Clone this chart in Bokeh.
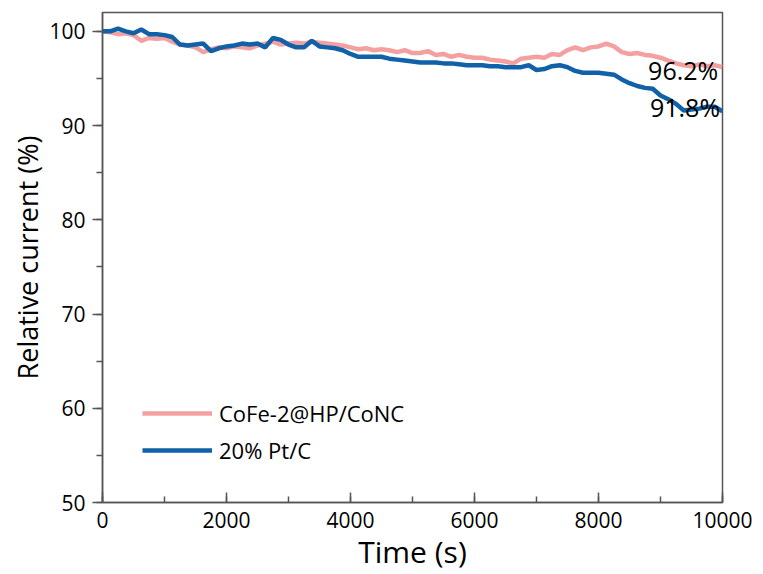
from bokeh.plotting import figure
from bokeh.models import Range1d, SingleIntervalTicker, Label, Legend, LegendItem
from bokeh.embed import file_html
from bokeh.resources import INLINE

time_s = [i * 125 for i in range(81)]

cofe = [100.0, 99.9, 99.7, 99.8, 99.6, 99.0, 99.3, 99.2, 99.3, 98.9,
        98.6, 98.5, 98.3, 97.8, 98.1, 98.3, 98.2, 98.4, 98.3, 98.2,
        98.5, 98.7, 98.9, 98.6, 98.7, 98.8, 98.7, 98.9, 98.8, 98.7,
        98.6, 98.5, 98.3, 98.1, 98.2, 98.0, 98.1, 98.0, 97.8, 98.0,
        97.7, 97.7, 97.9, 97.5, 97.6, 97.3, 97.5, 97.3, 97.2, 97.2,
        97.0, 96.9, 96.8, 96.6, 97.1, 97.2, 97.3, 97.2, 97.6, 97.5,
        98.0, 98.3, 98.0, 98.3, 98.4, 98.7, 98.4, 97.8, 97.6, 97.7,
        97.5, 97.4, 97.2, 96.9, 96.6, 96.4, 96.3, 96.5, 96.3, 96.4,
        96.2]

ptc = [100.0, 100.0, 100.3, 100.0, 99.8, 100.2, 99.7, 99.7, 99.6, 99.4,
       98.6, 98.5, 98.6, 98.7, 97.9, 98.2, 98.4, 98.5, 98.7, 98.6,
       98.7, 98.3, 99.3, 99.1, 98.6, 98.3, 98.3, 99.0, 98.4, 98.3,
       98.2, 98.0, 97.6, 97.3, 97.3, 97.3, 97.3, 97.1, 97.0, 96.9,
       96.8, 96.7, 96.7, 96.7, 96.6, 96.6, 96.5, 96.4, 96.4, 96.4,
       96.3, 96.3, 96.2, 96.2, 96.2, 96.4, 95.9, 96.0, 96.3, 96.4,
       96.2, 95.8, 95.6, 95.6, 95.6, 95.5, 95.4, 94.9, 94.5, 94.2,
       94.0, 93.9, 93.2, 92.8, 92.3, 91.6, 91.7, 91.8, 92.0, 92.0,
       91.5]

series_names = ["CoFe-2@HP/CoNC", "20% Pt/C"]
end_labels = ["96.2%", "91.8%"]

FONT = "Open Sans"
AX = "#555555"

p = figure(width=763, height=574, output_backend="svg", toolbar_location=None,
           x_range=Range1d(0, 10000), y_range=Range1d(50, 102),
           frame_width=620, frame_height=490,
           min_border_left=102, min_border_right=41, min_border_top=12, min_border_bottom=72)
p.background_fill_color = "white"
p.border_fill_color = "white"
p.outline_line_color = AX
p.outline_line_width = 1.5
p.grid.visible = False

r1 = p.line(time_s, cofe, line_color="#F5A0A0", line_width=4.5)
r2 = p.line(time_s, ptc, line_color="#1061A8", line_width=4.5)

xa = p.xaxis[0]
xa.ticker = SingleIntervalTicker(interval=2000, num_minor_ticks=2)
xa.major_tick_in = 10
xa.major_tick_out = 0
xa.minor_tick_in = 6
xa.minor_tick_out = 0
xa.axis_label = "Time (s)"

ya = p.yaxis[0]
ya.ticker = SingleIntervalTicker(interval=10, num_minor_ticks=2)
ya.major_tick_in = 0
ya.major_tick_out = 10
ya.minor_tick_in = 0
ya.minor_tick_out = 6
ya.axis_label = "Relative current (%)"

for ax in (xa, ya):
    ax.axis_line_color = AX
    ax.axis_line_width = 1.5
    ax.major_tick_line_color = AX
    ax.minor_tick_line_color = AX
    ax.major_tick_line_width = 1.5
    ax.minor_tick_line_width = 1.5
    ax.major_label_text_font = FONT
    ax.major_label_text_font_size = "21px"
    ax.major_label_text_color = "black"
    ax.axis_label_text_font = FONT
    ax.axis_label_text_font_style = "normal"
    ax.axis_label_text_color = "black"
xa.axis_label_text_font_size = "30px"
ya.axis_label_text_font_size = "27px"
xa.major_label_standoff = 9
xa.axis_label_standoff = 0
ya.major_label_standoff = 7
ya.axis_label_standoff = 0

legend = Legend(items=[LegendItem(label=series_names[0], renderers=[r1]),
                       LegendItem(label=series_names[1], renderers=[r2])],
                location=(40, 34), border_line_color=None, background_fill_alpha=0,
                padding=0, margin=0, spacing=0, glyph_width=70, glyph_height=30,
                label_height=37, label_standoff=7, label_text_color="black",
                label_text_font=FONT, label_text_font_size="22px")
p.add_layout(legend, "center")

p.add_layout(Label(x=8800, y=95.95, text=end_labels[0], text_font=FONT, text_color="black",
                   text_font_size="25px", text_baseline="alphabetic", text_align="left"))
p.add_layout(Label(x=8830, y=91.95, text=end_labels[1], text_font=FONT, text_color="black",
                   text_font_size="25px", text_baseline="alphabetic", text_align="left"))

open("out.html", "w").write(file_html(p, INLINE))
